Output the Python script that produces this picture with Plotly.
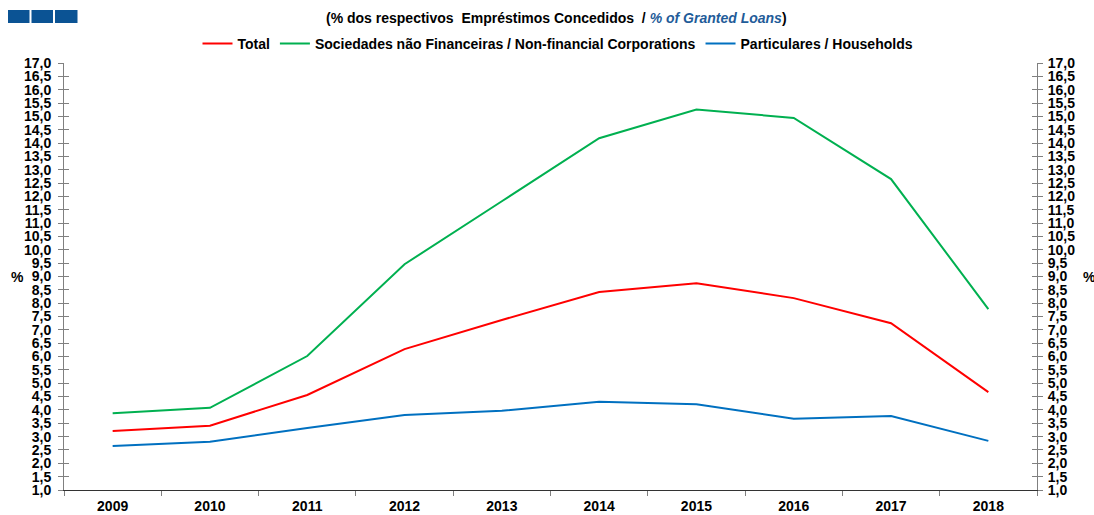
import plotly.graph_objects as go

years = ["2009", "2010", "2011", "2012", "2013", "2014", "2015", "2016", "2017", "2018"]
total = [3.21, 3.41, 4.56, 6.28, 7.37, 8.42, 8.75, 8.19, 7.25, 4.67]
nfc = [3.88, 4.08, 6.02, 9.46, 11.82, 14.18, 15.26, 14.94, 12.65, 7.78]
households = [2.65, 2.81, 3.32, 3.81, 3.97, 4.31, 4.21, 3.67, 3.77, 2.84]

names = ["Total", "Sociedades não Financeiras / Non-financial Corporations", "Particulares / Households"]
colors = ["#FF0000", "#00B050", "#0070C0"]

W, H = 1094, 515
L, R, T, B = 64, 57, 63, 25
pw, ph = W - L - R, H - T - B

def px(x):
    return (x - L) / pw

def py(y):
    return (H - B - y) / ph

fig = go.Figure()
for name, vals, c in zip(names, [total, nfc, households], colors):
    fig.add_trace(go.Scatter(x=years, y=vals, name=name, mode="lines",
                             line=dict(color=c, width=2)))
# helper traces for extra axes (invisible)
for ax in ["y2", "y3", "y4"]:
    fig.add_trace(go.Scatter(x=years, y=total, yaxis=ax, mode="lines",
                             line=dict(width=0, color="rgba(0,0,0,0)"),
                             showlegend=False, hoverinfo="skip"))

FONT = "Liberation Sans, Arial"
tickfont = dict(family=FONT, size=14, color="black", weight="bold")
yrange = [1.0, 17.0]
common = dict(range=yrange, dtick=0.5, tick0=1.0, tickformat=".1f", automargin=False,
              showgrid=False, zeroline=False, linecolor="#808080", linewidth=1,
              tickcolor="#808080", ticklen=5, tickwidth=1)

fig.update_layout(
    width=W, height=H,
    margin=dict(l=L, r=R, t=T, b=B, autoexpand=False),
    paper_bgcolor="white", plot_bgcolor="white",
    separators=",.",
    showlegend=True,
    legend=dict(orientation="h", x=px(558), xanchor="center", y=py(44), yanchor="middle",
                font=dict(family=FONT, size=14, color="black", weight="bold"),
                itemwidth=30, tracegroupgap=0, bgcolor="rgba(0,0,0,0)"),
    xaxis=dict(type="category", tickson="boundaries", ticks="outside", ticklen=5,
               tickcolor="#808080", showline=True, linecolor="#333333", linewidth=1,
               showgrid=False, tickfont=tickfont, range=[-0.5, 9.5], automargin=False,
               ticklabelstandoff=3),
    yaxis=dict(**common, showline=True, ticks="outside", tickfont=tickfont, side="left",
               ticklabelstandoff=4),
    yaxis2=dict(**common, showline=True, ticks="outside", tickfont=tickfont, side="right",
                overlaying="y", anchor="x", ticklabelstandoff=2),
    yaxis3=dict(**common, showline=False, ticks="inside", showticklabels=False, side="left",
                overlaying="y", anchor="x"),
    yaxis4=dict(**common, showline=False, ticks="inside", showticklabels=False, side="right",
                overlaying="y", anchor="x"),
)

# blue squares at top-left
for x0, x1 in [(8, 29.5), (31.5, 53), (55, 77.5)]:
    fig.add_shape(type="rect", xref="paper", yref="paper",
                  x0=px(x0), x1=px(x1), y0=py(23), y1=py(10),
                  fillcolor="#0B5394", line=dict(width=0))

fig.add_annotation(xref="paper", yref="paper", x=px(556), y=py(18), showarrow=False,
                   xanchor="center", yanchor="middle",
                   text="<b>(% dos respectivos  Empréstimos Concedidos  / "
                        "<i><span style='color:#1F5C99'>% of Granted Loans</span></i>)</b>",
                   font=dict(family=FONT, size=14, color="black"))
fig.add_annotation(xref="paper", yref="paper", x=px(17), y=py(277), showarrow=False,
                   xanchor="center", yanchor="middle",
                   text="<b>%</b>", font=dict(family=FONT, size=14, color="black"))
fig.add_annotation(xref="paper", yref="paper", x=px(1089), y=py(277), showarrow=False,
                   xanchor="center", yanchor="middle",
                   text="<b>%</b>", font=dict(family=FONT, size=14, color="black"))

fig.write_html("out.html", config={"displayModeBar": False},
               post_script="document.body.style.margin='0';")
